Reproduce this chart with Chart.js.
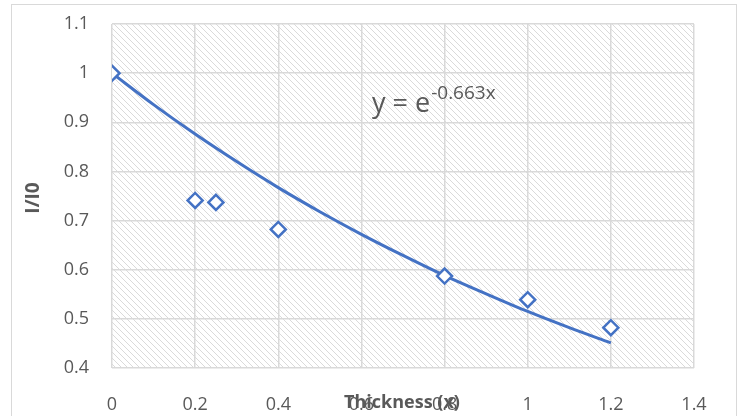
<!DOCTYPE html>
<html>
<head>
<meta charset="utf-8">
<script src="https://cdn.jsdelivr.net/npm/chart.js@4"></script>
<style>
  html, body { margin: 0; padding: 0; background: #fff; }
  #wrap { width: 739px; height: 416px; }
</style>
</head>
<body>
<div id="wrap"><canvas id="myChart" width="739" height="416"></canvas></div>
<script>
// measured points
var thickness = [0, 0.2, 0.25, 0.4, 0.8, 1.0, 1.2];
var ratio = [1, 0.741, 0.737, 0.682, 0.587, 0.539, 0.482];

// trendline y = e^-0.663x
var trendX = [0, 0.1, 0.2, 0.3, 0.4, 0.5, 0.6, 0.7, 0.8, 0.9, 1.0, 1.1, 1.2];
var trendY = [1, 0.936, 0.876, 0.820, 0.767, 0.718, 0.672, 0.629, 0.588, 0.551, 0.515, 0.482, 0.451];

var xTicks = [0, 0.2, 0.4, 0.6, 0.8, 1, 1.2, 1.4];
var yTicks = [0.4, 0.5, 0.6, 0.7, 0.8, 0.9, 1, 1.1];

var blue = "#4472C4";
var grey = "#595959";
var fontName = "'Open Sans', 'Liberation Sans', sans-serif";

function makeHatch() {
    var c = document.createElement('canvas');
    c.width = 6; c.height = 6;
    var g = c.getContext('2d');
    g.fillStyle = '#fff';
    g.fillRect(0, 0, 6, 6);
    g.fillStyle = '#dadada';
    for (var i = 0; i < 6; i++) {
        g.fillRect(i, i, 1, 1);
    }
    return c;
}

var decor = {
    id: 'decor',
    beforeDraw: function (chart) {
        var ctx = chart.ctx, a = chart.chartArea;
        ctx.save();
        ctx.fillStyle = '#fff';
        ctx.fillRect(0, 0, chart.width, chart.height);
        ctx.strokeStyle = '#d9d9d9';
        ctx.lineWidth = 1;
        ctx.strokeRect(11.5, 4.5, 725, 430);
        ctx.fillStyle = ctx.createPattern(makeHatch(), 'repeat');
        ctx.fillRect(a.left, a.top, a.right - a.left, a.bottom - a.top);
        ctx.restore();
    },
    afterDraw: function (chart) {
        var ctx = chart.ctx;
        ctx.save();
        ctx.fillStyle = grey;
        // x axis title (overlaps tick labels like the original)
        ctx.font = "bold 18px " + fontName;
        ctx.textAlign = 'center';
        ctx.textBaseline = 'middle';
        ctx.fillText('Thickness (x)', 402, 403);
        // y axis title
        ctx.font = "bold 19px " + fontName;
        ctx.translate(34, 198);
        ctx.rotate(-Math.PI / 2);
        ctx.fillText('I/I0', 0, 0);
        ctx.restore();
        // equation
        ctx.save();
        ctx.fillStyle = grey;
        ctx.textAlign = 'left';
        ctx.textBaseline = 'alphabetic';
        ctx.font = "27px " + fontName;
        ctx.fillText('y = e', 372, 112);
        var w = ctx.measureText('y = e').width;
        ctx.font = "19px " + fontName;
        ctx.fillText('-0.663x', 373 + w, 99);
        ctx.restore();
    }
};

var ctx = document.getElementById('myChart').getContext('2d');
var myChart = new Chart(ctx, {
    type: 'scatter',
    data: {
        datasets: [{
            label: 'I/I0',
            data: thickness.map(function (x, i) { return { x: x, y: ratio[i] }; }),
            pointStyle: 'rectRot',
            pointRadius: 7.5,
            pointHoverRadius: 7.5,
            borderWidth: 2.5,
            borderColor: blue,
            backgroundColor: '#fff',
            showLine: false
        }, {
            label: 'Trend',
            data: trendX.map(function (x, i) { return { x: x, y: trendY[i] }; }),
            showLine: true,
            pointRadius: 0,
            borderColor: blue,
            borderWidth: 3,
            cubicInterpolationMode: 'monotone',
            fill: false
        }]
    },
    options: {
        responsive: false,
        animation: false,
        layout: { padding: { left: 0, right: 45, top: 24, bottom: 0 } },
        plugins: {
            legend: { display: false },
            tooltip: { enabled: false }
        },
        scales: {
            x: {
                type: 'linear',
                min: 0,
                max: 1.4,
                afterBuildTicks: function (axis) {
                    axis.ticks = xTicks.map(function (v) { return { value: v }; });
                },
                afterFit: function (axis) {
                    axis.height = 48;
                    axis.paddingLeft = 0;
                    axis.paddingRight = 0;
                },
                grid: { color: '#d9d9d9', lineWidth: 1.5, drawTicks: false },
                border: { display: false },
                ticks: {
                    padding: 26,
                    color: grey,
                    font: { family: fontName, size: 18 },
                    callback: function (v) { return String(+v.toFixed(2)); }
                }
            },
            y: {
                type: 'linear',
                min: 0.4,
                max: 1.1,
                afterBuildTicks: function (axis) {
                    axis.ticks = yTicks.map(function (v) { return { value: v }; });
                },
                afterFit: function (axis) {
                    axis.width = 112;
                    axis.paddingTop = 0;
                    axis.paddingBottom = 0;
                },
                grid: { color: '#d9d9d9', lineWidth: 1.5, drawTicks: false },
                border: { display: false },
                ticks: {
                    padding: 23,
                    color: grey,
                    font: { family: fontName, size: 18 },
                    callback: function (v) { return String(+v.toFixed(2)); }
                }
            }
        }
    },
    plugins: [decor]
});
</script>
</body>
</html>
